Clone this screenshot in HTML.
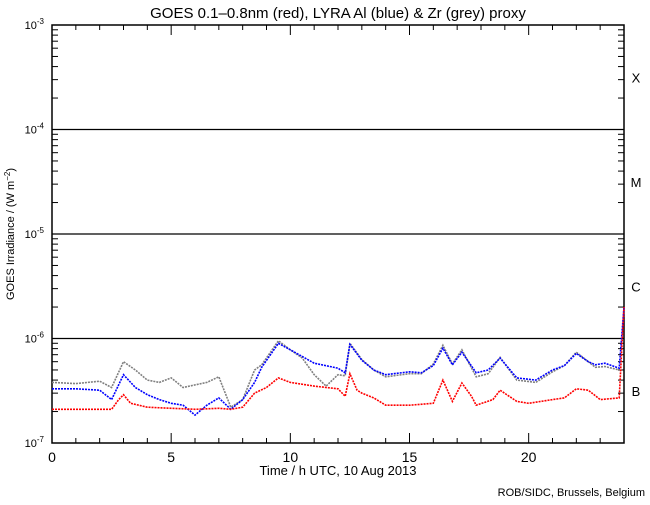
<!DOCTYPE html>
<html><head><meta charset="utf-8"><style>
body{margin:0;background:#fff}
svg text{font-family:"Liberation Sans",sans-serif;fill:#000}
</style></head><body>
<svg id="c" width="650" height="500" xmlns="http://www.w3.org/2000/svg">
<rect width="650" height="500" fill="#fff"/>
<text x="338" y="18" font-size="15" text-anchor="middle">GOES 0.1–0.8nm (red), LYRA Al (blue) &amp; Zr (grey) proxy</text>
<text x="338" y="475" font-size="13" text-anchor="middle">Time / h UTC, 10 Aug 2013</text>
<text x="14" y="234" font-size="11" text-anchor="middle" transform="rotate(-90 14 234)">GOES Irradiance / (W m<tspan dy="-4" font-size="8">−2</tspan><tspan dy="4">)</tspan></text>
<text x="645" y="496" font-size="11" text-anchor="end">ROB/SIDC, Brussels, Belgium</text>
<g id="axes"></g>
<g id="series"></g>
</svg>
<script>
const xTicks=[0,5,10,15,20];
const yDecades=[-3,-4,-5,-6,-7];
const classLabels=["X","M","C","B"];
const redT=[0,1,2,2.5,2.8,3,3.3,4,5,6,7,7.5,8,8.5,9,9.5,10,11,12,12.3,12.5,12.8,13,13.5,14,15,16,16.4,16.8,17.2,17.6,17.8,18.5,18.8,19.5,20,21,21.5,22,22.5,23,23.8,24];
const redV=[2.1e-7,2.1e-7,2.1e-7,2.1e-7,2.6e-7,2.9e-7,2.4e-7,2.2e-7,2.15e-7,2.1e-7,2.15e-7,2.1e-7,2.2e-7,3.0e-7,3.4e-7,4.2e-7,3.8e-7,3.5e-7,3.3e-7,2.8e-7,4.6e-7,3.2e-7,3.0e-7,2.7e-7,2.3e-7,2.3e-7,2.4e-7,4.0e-7,2.5e-7,3.75e-7,2.8e-7,2.3e-7,2.6e-7,3.2e-7,2.5e-7,2.4e-7,2.6e-7,2.7e-7,3.3e-7,3.2e-7,2.6e-7,2.7e-7,2.0e-6];
const blueT=[0,1,2,2.5,3,3.5,4,4.5,5,5.5,6,6.5,7,7.5,8,8.5,8.8,9.5,10,11,12,12.3,12.5,13,13.5,14,15,15.5,16,16.4,16.8,17.2,17.8,18.3,18.8,19.5,20.3,21,21.5,22,22.5,22.8,23.2,23.8,24];
const blueV=[3.3e-7,3.3e-7,3.2e-7,2.6e-7,4.5e-7,3.4e-7,2.9e-7,2.6e-7,2.4e-7,2.3e-7,1.85e-7,2.3e-7,2.7e-7,2.1e-7,2.6e-7,3.8e-7,5.3e-7,9.0e-7,7.8e-7,5.8e-7,5.2e-7,4.7e-7,8.8e-7,6.2e-7,5.0e-7,4.5e-7,4.8e-7,4.7e-7,5.5e-7,8.1e-7,5.6e-7,7.4e-7,4.7e-7,5.0e-7,6.5e-7,4.2e-7,4.0e-7,5.0e-7,5.5e-7,7.2e-7,6.0e-7,5.6e-7,5.8e-7,5.2e-7,2.0e-6];
const greyT=[0,1,2,2.5,3,3.5,4,4.5,5,5.5,6,6.5,7,7.5,8,8.5,8.8,9.5,10,10.5,11,11.5,12,12.3,12.5,13,13.5,14,15,15.5,16,16.4,16.8,17.2,17.8,18.3,18.8,19.5,20.3,21,21.5,22,22.5,22.8,23.2,23.8];
const greyV=[3.8e-7,3.7e-7,3.9e-7,3.4e-7,6.0e-7,5.0e-7,4.0e-7,3.8e-7,4.2e-7,3.4e-7,3.6e-7,3.8e-7,4.3e-7,2.2e-7,2.6e-7,5.0e-7,5.6e-7,9.5e-7,7.8e-7,6.5e-7,4.5e-7,3.5e-7,4.5e-7,4.4e-7,9.0e-7,6.3e-7,5.0e-7,4.3e-7,4.6e-7,4.6e-7,5.7e-7,8.6e-7,5.7e-7,7.8e-7,4.3e-7,4.6e-7,6.6e-7,4.0e-7,3.8e-7,4.8e-7,5.5e-7,7.4e-7,6.0e-7,5.3e-7,5.4e-7,5.0e-7];

const L=52,R=624,T=25,B=443;
const NS="http://www.w3.org/2000/svg";
function x(t){return L+(t-0)/24*(R-L);}
function y(v){return T+(-3-Math.log10(v))/4*(B-T);}
function mk(tag,attrs,parent){const e=document.createElementNS(NS,tag);for(const k in attrs)e.setAttribute(k,attrs[k]);parent.appendChild(e);return e;}
const ax=document.getElementById('axes');
const frame=mk('rect',{x:L,y:T,width:R-L,height:B-T,fill:'none',stroke:'#000','stroke-width':1.5},ax);


for(let h=0;h<=24;h++){
  const len=(h%5===0)?10:5;
  mk('line',{x1:x(h),x2:x(h),y1:B,y2:B-len,stroke:'#000'},ax);
  mk('line',{x1:x(h),x2:x(h),y1:T,y2:T+len,stroke:'#000'},ax);
}
xTicks.forEach(t=>{
  const tx=mk('text',{x:x(t),y:B+19,'font-size':14,'text-anchor':'middle'},ax);
  tx.textContent=t;
  
  
});
yDecades.forEach((d,i)=>{
  const yy=y(Math.pow(10,d));
  if(d>-7&&d<-3){
    const gl=mk('line',{x1:L,x2:R,y1:yy,y2:yy,stroke:'#000','stroke-width':1.3},ax);
    
    
  }
  const tx=mk('text',{x:44,y:yy+4,'font-size':11,'text-anchor':'end'},ax);
  tx.innerHTML='10<tspan dy="-5" font-size="8">'+d+'</tspan>';
  
  
  if(d>-7){
    for(let m=2;m<=9;m++){
      const my=y(m*Math.pow(10,d-1));
      mk('line',{x1:L,x2:L+6,y1:my,y2:my,stroke:'#000'},ax);
      mk('line',{x1:R,x2:R-6,y1:my,y2:my,stroke:'#000'},ax);
    }
  }
});
classLabels.forEach((c,i)=>{
  const yy=(y(Math.pow(10,-3-i))+y(Math.pow(10,-4-i)))/2;
  const tx=mk('text',{x:636,y:yy+5,'font-size':13,'text-anchor':'middle'},ax);
  tx.textContent=c;
  
  
});
const sg=document.getElementById('series');
function series(ts,vs,col,name){
  const pts=ts.map((t,i)=>x(t).toFixed(1)+','+y(vs[i]).toFixed(1)).join(' ');
  const p=mk('polyline',{points:pts,fill:'none',stroke:col,'stroke-width':1.6,'stroke-dasharray':'2 1'},sg);
  
  
}
series(greyT,greyV,'#808080','zr-proxy-series');
series(blueT,blueV,'#0000ff','al-proxy-series');
series(redT,redV,'#ff0000','goes-series');
</script>
</body></html>
